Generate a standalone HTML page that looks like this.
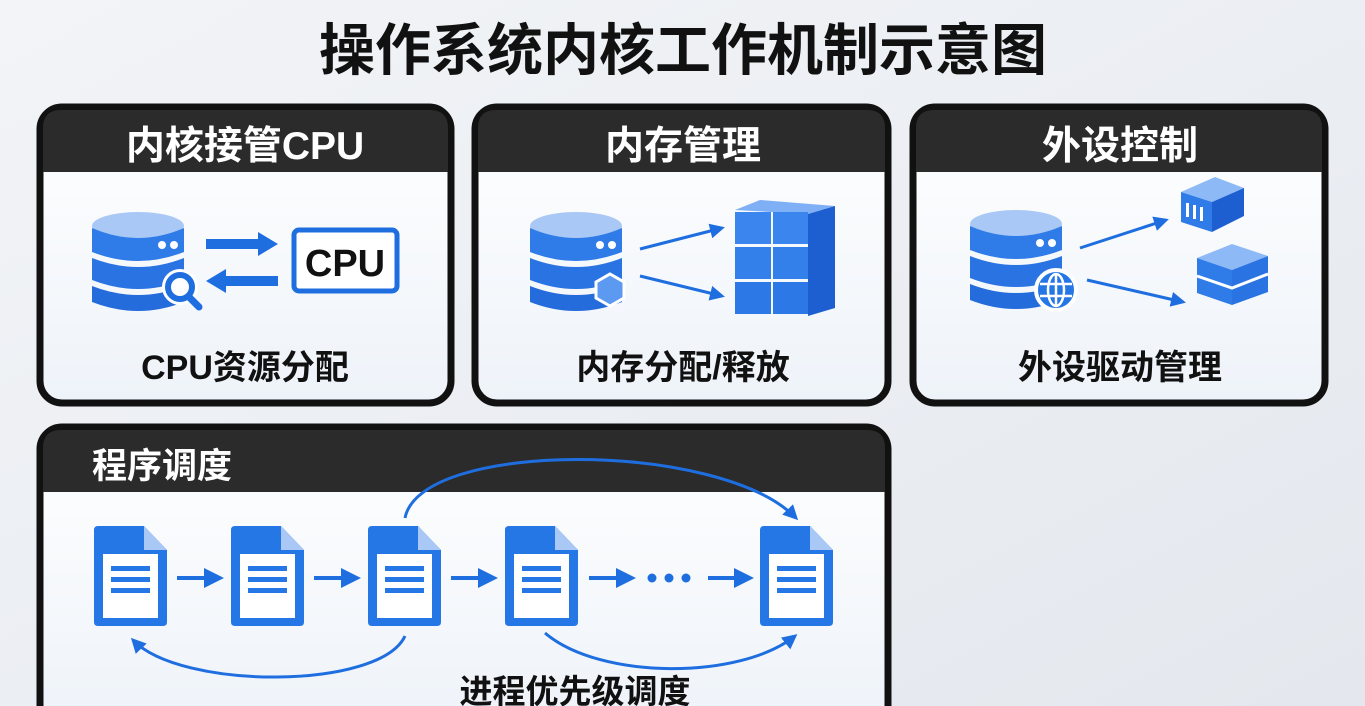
<!DOCTYPE html>
<html><head><meta charset="utf-8"><style>
html,body{margin:0;padding:0;width:1365px;height:706px;overflow:hidden;background:#eef1f5}
svg{display:block}
text{font-family:"Liberation Sans","Noto Sans CJK SC",sans-serif;font-weight:bold}
</style></head><body>
<svg width="1365" height="706" viewBox="0 0 1365 706" xmlns="http://www.w3.org/2000/svg">
<defs>
<linearGradient id="bg" x1="0" y1="0" x2="1" y2="1"><stop offset="0" stop-color="#f2f4f7"/><stop offset="1" stop-color="#e4e8ee"/></linearGradient>
<linearGradient id="pn" x1="0" y1="0" x2="0" y2="1"><stop offset="0" stop-color="#ffffff"/><stop offset="1" stop-color="#eef3f9"/></linearGradient>
<marker id="ah" viewBox="0 0 10 10" refX="8" refY="5" markerWidth="5" markerHeight="5" orient="auto"><path d="M0,0 L10,5 L0,10 z" fill="#1f6ee0"/></marker>
<g id="db">
<ellipse cx="46" cy="14" rx="46" ry="14" fill="#a9c8f5"/>
<path d="M0,16 Q46,36 92,16 V40 Q46,58 0,40z" fill="#2f7be8"/>
<path d="M0,46 Q46,64 92,46 V68 Q46,86 0,68z" fill="#2a73e3"/>
<path d="M0,74 Q46,92 92,74 V90 Q46,108 0,90z" fill="#246bdc"/>
<circle cx="70" cy="33" r="4" fill="#fff"/><circle cx="82" cy="33" r="4" fill="#fff"/>
</g>
<g id="doc">
<path d="M0,4 Q0,0 4,0 H50 L73,24 V96 Q73,100 69,100 H4 Q0,100 0,96z" fill="#2677e6"/>
<path d="M50,0 L73,24 H50z" fill="#a9c8f5"/>
<rect x="9" y="28" width="55" height="64" fill="#fff"/>
<rect x="17" y="40" width="39" height="5" fill="#2677e6"/>
<rect x="17" y="51" width="39" height="5" fill="#2677e6"/>
<rect x="17" y="62" width="39" height="5" fill="#2677e6"/>
</g>
</defs>
<rect width="1365" height="706" fill="url(#bg)"/>
<text x="683" y="70" font-size="56" text-anchor="middle" fill="#111">操作系统内核工作机制示意图</text>

<g stroke="#111" stroke-width="7">
<rect x="40" y="107" width="411" height="296" rx="22" fill="url(#pn)"/>
<rect x="475" y="107" width="413" height="296" rx="22" fill="url(#pn)"/>
<rect x="913" y="107" width="412" height="296" rx="22" fill="url(#pn)"/>
<rect x="40" y="427" width="848" height="300" rx="22" fill="url(#pn)"/>
</g>
<path d="M43,172 V128 Q43,110 61,110 H430 Q448,110 448,128 V172z" fill="#2b2b2b"/>
<path d="M478,172 V128 Q478,110 496,110 H867 Q885,110 885,128 V172z" fill="#2b2b2b"/>
<path d="M916,172 V128 Q916,110 934,110 H1304 Q1322,110 1322,128 V172z" fill="#2b2b2b"/>
<path d="M43,492 V448 Q43,430 61,430 H867 Q885,430 885,448 V492z" fill="#2b2b2b"/>
<text x="245" y="159" font-size="39" text-anchor="middle" fill="#fff">内核接管CPU</text>
<text x="683" y="159" font-size="39" text-anchor="middle" fill="#fff">内存管理</text>
<text x="1120" y="159" font-size="39" text-anchor="middle" fill="#fff">外设控制</text>
<text x="92" y="478" font-size="35" fill="#fff">程序调度</text>

<use href="#db" x="92" y="212"/>
<circle cx="180" cy="287" r="15" fill="#fff" stroke="#fff" stroke-width="6"/>
<circle cx="180" cy="287" r="12" fill="#fff" stroke="#1f6ee0" stroke-width="6"/>
<line x1="189" y1="297" x2="199" y2="307" stroke="#1f6ee0" stroke-width="7" stroke-linecap="round"/>
<path d="M206,239 H258 V232 L278,244 L258,256 V249 H206z" fill="#1f6ee0"/>
<path d="M278,276 H226 V269 L206,281 L226,293 V286 H278z" fill="#1f6ee0"/>
<rect x="294" y="230" width="103" height="61" rx="5" fill="#fff" stroke="#1f6ee0" stroke-width="5"/>
<text x="345" y="276" font-size="38" text-anchor="middle" fill="#111">CPU</text>
<text x="245" y="379" font-size="34" text-anchor="middle" fill="#111">CPU资源分配</text>

<use href="#db" x="530" y="212"/>
<path d="M596,282 L610,274 L624,282 V298 L610,306 L596,298z" fill="#5b9af0" stroke="#fff" stroke-width="3"/>
<line x1="640" y1="249" x2="722" y2="228" stroke="#1f6ee0" stroke-width="3" marker-end="url(#ah)"/>
<line x1="640" y1="276" x2="722" y2="296" stroke="#1f6ee0" stroke-width="3" marker-end="url(#ah)"/>
<g>
<path d="M735,210 L760,200 L835,206 L808,214z" fill="#7fb0f5"/>
<path d="M808,214 L835,206 V308 L808,316z" fill="#1d5fd0"/>
<rect x="735" y="212" width="36" height="32" fill="#3b86ee"/><rect x="773" y="212" width="35" height="32" fill="#3b86ee"/>
<rect x="735" y="247" width="36" height="32" fill="#3480ea"/><rect x="773" y="247" width="35" height="32" fill="#3480ea"/>
<rect x="735" y="282" width="36" height="32" fill="#2c78e6"/><rect x="773" y="282" width="35" height="32" fill="#2c78e6"/>
</g>
<text x="683" y="379" font-size="34" text-anchor="middle" fill="#111">内存分配/释放</text>

<use href="#db" x="970" y="210"/>
<circle cx="1056" cy="290" r="20" fill="#2677e6" stroke="#fff" stroke-width="4"/>
<g stroke="#fff" stroke-width="2.5" fill="none"><ellipse cx="1056" cy="290" rx="8" ry="16"/><line x1="1040" y1="284" x2="1072" y2="284"/><line x1="1040" y1="296" x2="1072" y2="296"/><line x1="1056" y1="274" x2="1056" y2="306"/></g>
<line x1="1080" y1="248" x2="1166" y2="220" stroke="#1f6ee0" stroke-width="3" marker-end="url(#ah)"/>
<line x1="1087" y1="280" x2="1183" y2="302" stroke="#1f6ee0" stroke-width="3" marker-end="url(#ah)"/>
<path d="M1181,192 L1215,177 L1244,188 L1212,202z" fill="#8dbaf7"/>
<path d="M1181,192 L1212,202 V232 L1181,222z" fill="#2f7be8"/>
<path d="M1212,202 L1244,188 V216 L1212,232z" fill="#1d5fd0"/>
<g fill="#fff"><rect x="1186" y="203" width="3" height="14"/><rect x="1193" y="205" width="3" height="14"/><rect x="1200" y="207" width="3" height="14"/></g>
<path d="M1197,258 L1232,244 L1268,256 L1232,270z" fill="#8dbaf7"/>
<path d="M1197,258 L1232,270 V305 L1197,293z" fill="#2f7be8"/>
<path d="M1232,270 L1268,256 V292 L1232,305z" fill="#2a73e3"/>
<path d="M1197,276 L1232,288 L1268,274" stroke="#fff" stroke-width="3" fill="none"/>
<text x="1120" y="379" font-size="34" text-anchor="middle" fill="#111">外设驱动管理</text>

<use href="#doc" x="94" y="526"/>
<use href="#doc" x="231" y="526"/>
<use href="#doc" x="368" y="526"/>
<use href="#doc" x="505" y="526"/>
<use href="#doc" x="760" y="526"/>
<g stroke="#1f6ee0" stroke-width="4" fill="none" marker-end="url(#ah)">
<line x1="177" y1="578" x2="220" y2="578"/>
<line x1="314" y1="578" x2="357" y2="578"/>
<line x1="451" y1="578" x2="494" y2="578"/>
<line x1="589" y1="578" x2="632" y2="578"/>
<line x1="708" y1="578" x2="750" y2="578"/>
<path d="M405,518 C420,440 720,440 796,518" stroke-width="3"/>
<path d="M405,636 C380,690 180,690 133,640" stroke-width="3"/>
<path d="M545,633 C600,680 740,680 795,636" stroke-width="3"/>
</g>
<circle cx="652" cy="578" r="4.5" fill="#1f6ee0"/><circle cx="669" cy="578" r="4.5" fill="#1f6ee0"/><circle cx="686" cy="578" r="4.5" fill="#1f6ee0"/>
<text x="575" y="703" font-size="33" text-anchor="middle" fill="#111">进程优先级调度</text>
</svg>
</body></html>
